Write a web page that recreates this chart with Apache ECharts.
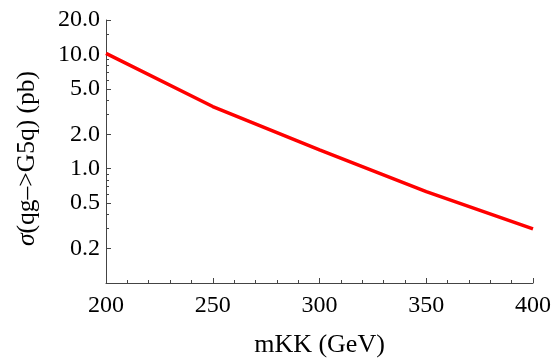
<!DOCTYPE html>
<html>
<head>
<meta charset="utf-8">
<script src="https://cdn.jsdelivr.net/npm/echarts@6/dist/echarts.min.js"></script>
<style>html,body{margin:0;padding:0;background:#fff}#c{width:559px;height:358px}</style>
</head>
<body>
<div id="c"></div>
<script>
const mKK = [200, 250, 300, 350, 400];
const sigma = [10.2, 3.5, 1.46, 0.63, 0.298];
const yMajorTicks = [0.2, 0.5, 1, 2, 5, 10, 20];
const yMinorTicks = [0.1, 0.3, 0.4, 0.6, 0.7, 0.8, 0.9, 3, 4, 6, 7, 8, 9, 15];
const xTicks = [200, 250, 300, 350, 400];

const font = "'Liberation Serif', 'Times New Roman', serif";
const axisCol = '#444';
const chart = echarts.init(document.getElementById('c'), null, {renderer: 'canvas'});
chart.setOption({
  animation: false,
  grid: {left: 106, right: 26, top: 20, bottom: 75, containLabel: false, outerBoundsMode: 'none'},
  xAxis: {
    type: 'value', min: 200, max: 400, interval: 50,
    name: 'mKK (GeV)', nameLocation: 'middle', nameGap: 49,
    nameTextStyle: {fontFamily: font, fontSize: 26, color: '#000'},
    axisLine: {lineStyle: {color: axisCol, width: 1}},
    axisTick: {inside: true, length: 5, lineStyle: {color: axisCol}},
    minorTick: {show: true, splitNumber: 5, length: 3, lineStyle: {color: axisCol}},
    axisLabel: {fontFamily: font, fontSize: 24, color: '#000', margin: 11,
      customValues: xTicks},
    splitLine: {show: false}
  },
  yAxis: [{
    type: 'log', min: 0.1, max: 20, logBase: 10,
    name: '{s|σ}(qg–>G5q) (pb)', nameLocation: 'middle', nameGap: 66, nameRotate: 90,
    nameTextStyle: {fontFamily: font, fontSize: 25.5, color: '#000', padding: [0, 14, 0, 0],
      rich: {s: {fontFamily: font, fontSize: 25.5, fontStyle: 'italic', color: '#000'}}},
    axisLine: {show: true, lineStyle: {color: axisCol, width: 1}},
    axisTick: {show: true, inside: true, length: 5, lineStyle: {color: axisCol}, customValues: yMajorTicks},
    axisLabel: {fontFamily: font, fontSize: 24, color: '#000', margin: 6,
      customValues: yMajorTicks, formatter: v => Number(v).toFixed(1)},
    splitLine: {show: false}
  }, {
    type: 'log', min: 0.1, max: 20, logBase: 10, position: 'left',
    axisLine: {show: false},
    axisTick: {show: true, inside: true, length: 3, lineStyle: {color: axisCol}, customValues: yMinorTicks},
    axisLabel: {show: false},
    splitLine: {show: false}
  }],
  series: [{
    type: 'line', yAxisIndex: 0,
    data: mKK.map((x, i) => [x, sigma[i]]),
    showSymbol: false, smooth: false,
    lineStyle: {color: '#ff0000', width: 3.5},
    clip: true
  }]
});
</script>
</body>
</html>
